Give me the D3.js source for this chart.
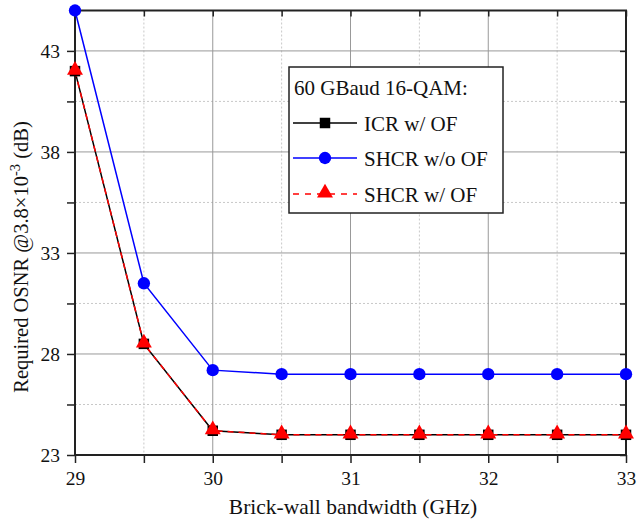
<!DOCTYPE html>
<html><head><meta charset="utf-8">
<script src="https://cdn.jsdelivr.net/npm/d3@7"></script>
<style>body{margin:0;background:#fff}svg{display:block}text{font-family:"Liberation Serif","Times New Roman",serif;fill:#111}</style>
</head><body><svg id="c" width="637" height="524"></svg>
<script>
const xValues = [29, 29.5, 30, 30.5, 31, 31.5, 32, 32.5, 33];
const icrWithOF = [42.0, 28.5, 24.2, 24.0, 24.0, 24.0, 24.0, 24.0, 24.0];
const shcrWithoutOF = [45.0, 31.5, 27.2, 27.0, 27.0, 27.0, 27.0, 27.0, 27.0];
const shcrWithOF = [42.0, 28.5, 24.2, 24.0, 24.0, 24.0, 24.0, 24.0, 24.0];
const xTicks = [29, 30, 31, 32, 33];
const yTicks = [23, 28, 33, 38, 43];
const legendTitle = "60 GBaud 16-QAM:";
const seriesNames = ["ICR w/ OF", "SHCR w/o OF", "SHCR w/ OF"];

const svg = d3.select("#c");
const L = 75, R = 626, T = 10.5, B = 455;
const x = d3.scaleLinear().domain([29, 33]).range([L, R]);
const y = d3.scaleLinear().domain([23, 45]).range([B, T]);

const xMinor = d3.range(29.5, 33, 1);
const yMinor = [25.5, 30.5, 35.5, 40.5];

// grid
const g = svg.append("g");
xMinor.forEach(v => g.append("line").attr("x1", x(v)).attr("x2", x(v)).attr("y1", T).attr("y2", B)
  .attr("stroke", "#c8c8c8").attr("stroke-dasharray", "2,2").attr("stroke-width", 1));
yMinor.forEach(v => g.append("line").attr("x1", L).attr("x2", R).attr("y1", y(v)).attr("y2", y(v))
  .attr("stroke", "#c8c8c8").attr("stroke-dasharray", "2,2").attr("stroke-width", 1));
xTicks.slice(1, -1).forEach(v => g.append("line").attr("x1", x(v)).attr("x2", x(v)).attr("y1", T).attr("y2", B)
  .attr("stroke", "#999").attr("stroke-width", 1));
yTicks.slice(1).forEach(v => g.append("line").attr("x1", L).attr("x2", R).attr("y1", y(v)).attr("y2", y(v))
  .attr("stroke", "#999").attr("stroke-width", 1));

// axes
const ax = svg.append("g").attr("transform", `translate(0,${B})`)
  .call(d3.axisBottom(x).tickValues(d3.range(29, 33.01, 0.5)).tickSize(8).tickPadding(0).tickFormat(d => Number.isInteger(d) ? d : ""));
const ay = svg.append("g").attr("transform", `translate(${L},0)`)
  .call(d3.axisLeft(y).tickValues(d3.range(23, 44, 2.5)).tickSize(8).tickPadding(7).tickFormat(d => Number.isInteger(d) && yTicks.includes(d) ? d : ""));
const axT = svg.append("g").attr("transform", `translate(0,${T})`)
  .call(d3.axisBottom(x).tickValues(d3.range(29, 33.01, 0.5)).tickSize(6).tickFormat(""));
const ayR = svg.append("g").attr("transform", `translate(${R},0)`)
  .call(d3.axisLeft(y).tickValues(d3.range(23, 44, 2.5)).tickSize(6).tickFormat(""));
[ax, ay, axT, ayR].forEach(a => {
  a.select(".domain").remove();
  a.selectAll(".tick line").attr("stroke", "#222").attr("stroke-width", 1.5);
  a.selectAll("text").attr("font-size", 19.5).attr("fill", "#111");
});
ax.selectAll("text").attr("y", 30).attr("dy", null);
ay.selectAll("text").attr("dy", "0.34em");
svg.append("rect").attr("x", L).attr("y", T).attr("width", R - L).attr("height", B - T)
  .attr("fill", "none").attr("stroke", "#222").attr("stroke-width", 2);

// lines
const line = vals => d3.line().x((d, i) => x(xValues[i])).y(d => y(d))(vals);
svg.append("path").attr("d", line(icrWithOF)).attr("fill", "none").attr("stroke", "#000").attr("stroke-width", 1.5);
svg.append("path").attr("d", line(shcrWithoutOF)).attr("fill", "none").attr("stroke", "#0000ff").attr("stroke-width", 1.5);
svg.append("path").attr("d", line(shcrWithOF)).attr("fill", "none").attr("stroke", "#ff0000").attr("stroke-width", 1.5).attr("stroke-dasharray", "6,5");

const sq = d3.symbol().type(d3.symbolSquare).size(110);
const ci = d3.symbol().type(d3.symbolCircle).size(120);
const tr = d3.symbol().type(d3.symbolTriangle).size(110);
icrWithOF.forEach((v, i) => svg.append("path").attr("d", sq()).attr("transform", `translate(${x(xValues[i])},${y(v)})`).attr("fill", "#000"));
shcrWithoutOF.forEach((v, i) => svg.append("path").attr("d", ci()).attr("transform", `translate(${x(xValues[i])},${y(v)})`).attr("fill", "#0000ff"));
shcrWithOF.forEach((v, i) => svg.append("path").attr("d", tr()).attr("transform", `translate(${x(xValues[i])},${y(v) - 1})`).attr("fill", "#ff0000"));

// legend
const lg = svg.append("g");
lg.append("rect").attr("x", 289).attr("y", 67).attr("width", 214).attr("height", 146).attr("fill", "#fff").attr("stroke", "#222").attr("stroke-width", 1.5);
lg.append("text").attr("x", 294).attr("y", 95).attr("font-size", 21).text(legendTitle);
const ly = [123, 158, 194];
const cols = ["#000", "#0000ff", "#ff0000"];
const syms = [sq, ci, tr];
ly.forEach((yy, i) => {
  lg.append("line").attr("x1", 293).attr("x2", 357).attr("y1", yy).attr("y2", yy).attr("stroke", cols[i]).attr("stroke-width", 1.5)
    .attr("stroke-dasharray", i === 2 ? "6,6" : null);
  lg.append("path").attr("d", syms[i]()).attr("transform", `translate(325,${yy - (i === 2 ? 1 : 0)})`).attr("fill", cols[i]);
  lg.append("text").attr("x", 364).attr("y", yy + 8).attr("font-size", 21).text(seriesNames[i]);
});

// axis titles
svg.append("text").attr("x", 353).attr("y", 514).attr("text-anchor", "middle").attr("font-size", 21.5).text("Brick-wall bandwidth (GHz)");
const yl = svg.append("text").attr("transform", `translate(28,257) rotate(-90)`).attr("text-anchor", "middle").attr("font-size", 20.5);
yl.append("tspan").text("Required OSNR @3.8×10");
yl.append("tspan").attr("dy", -8).attr("font-size", 14.5).text("-3");
yl.append("tspan").attr("dy", 8).text(" (dB)");
</script></body></html>
